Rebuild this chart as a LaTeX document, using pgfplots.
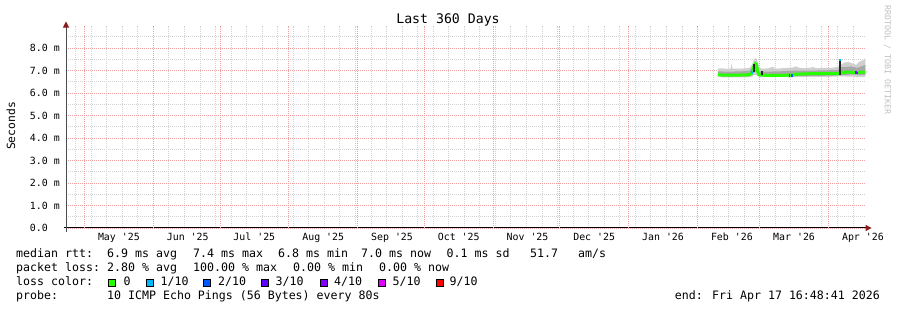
\documentclass[border=0pt]{standalone}
\usepackage{pgfplots}
\pgfplotsset{compat=1.18}
\usepackage{fontspec}
\setmainfont{DejaVu Sans Mono}
\setmonofont{DejaVu Sans Mono}
\usetikzlibrary{arrows.meta}
\definecolor{lcA}{HTML}{26FF00}
\definecolor{lcB}{HTML}{00B8FF}
\definecolor{lcC}{HTML}{0059FF}
\definecolor{lcD}{HTML}{5E00FF}
\definecolor{lcE}{HTML}{7E00FF}
\definecolor{lcF}{HTML}{DD00FF}
\definecolor{lcG}{HTML}{FF0000}
\definecolor{mgrid}{HTML}{F0A0A0}
\definecolor{mingrid}{HTML}{D2D2D2}
\definecolor{arrowred}{HTML}{8B1A1A}
\definecolor{smokeout}{HTML}{CFCFCF}
\definecolor{smokein}{HTML}{A8A8A8}
\definecolor{wmark}{HTML}{C0C0C0}
\newcommand\lf{\fontsize{11.6}{13}\selectfont}
\begin{document}
\begin{tikzpicture}[x=1pt,y=1pt]
\useasboundingbox (0,0) rectangle (897,310);
\begin{axis}[
  at={(66pt,82pt)}, anchor=south west,
  scale only axis, width=799.6pt, height=202.5pt,
  xmin=-8.3, xmax=351.7, ymin=0, ymax=9,
  axis x line*=bottom, axis y line*=left,
  x axis line style={black, line width=1pt, shorten <=-2pt, shorten >=-6pt, -{Triangle[length=6pt,width=6pt,color=arrowred]}},
  y axis line style={black!70, line width=1pt, shorten <=-4pt, shorten >=-4pt, -{Triangle[length=6pt,width=6pt,color=arrowred]}},
  xtick={15.5,46.5,76.5,107.5,138.5,168.5,199.5,229.5,260.5,291.5,319.5,350.5},
  xticklabels={May \textquotesingle25,Jun \textquotesingle25,Jul \textquotesingle25,Aug \textquotesingle25,Sep \textquotesingle25,Oct \textquotesingle25,Nov \textquotesingle25,Dec \textquotesingle25,Jan \textquotesingle26,Feb \textquotesingle26,Mar \textquotesingle26,Apr \textquotesingle26},
  extra x ticks={0,31,61,92,123,153,184,214,245,276,304,335},
  extra x tick labels={},
  extra x tick style={grid=major},
  minor xtick={-4,3,...,346},
  xminorgrids,
  ytick={0,1,2,3,4,5,6,7,8},
  yticklabels={0.0\hphantom{xx},1.0 m,2.0 m,3.0 m,4.0 m,5.0 m,6.0 m,7.0 m,8.0 m},
  minor ytick={0.5,1.5,2.5,3.5,4.5,5.5,6.5,7.5,8.5},
  ymajorgrids, yminorgrids,
  major grid style={mgrid, dash pattern=on 1pt off 1pt, line width=0.8pt},
  minor grid style={mingrid, dash pattern=on 1pt off 1pt, line width=0.8pt},
  major tick length=0pt, minor tick length=0pt,
  tick label style={font=\fontsize{9.9}{11}\selectfont},
  xticklabel style={anchor=base, yshift=-13pt},
  yticklabel style={anchor=east, inner sep=0pt, xshift=-6pt},
  clip=false,
]
% outer smoke band
\addplot[draw=none, fill=smokeout] coordinates {
(285.2,7.08) (287,7.10) (289,7.07) (291,7.09) (291.4,7.30) (291.8,7.08) (294,7.08) (297,7.09) (299.5,7.12) (300.5,7.25) (301.5,7.50) (302.2,7.55) (302.9,7.45) (303.6,7.15) (305,7.08) (308,7.10) (310,7.17) (311,7.08) (314,7.10) (317,7.12) (318.6,7.12) (320,7.18) (322,7.12) (325,7.10) (328,7.15) (330,7.10) (333,7.12) (336,7.12) (339,7.15) (340.5,7.25) (342,7.35) (344,7.38) (346,7.30) (347.5,7.25) (349,7.40) (350.5,7.45) (351.6,7.55)
(351.6,6.72) (348,6.72) (344,6.73) (340,6.74) (336,6.72) (330,6.72) (325,6.72) (320,6.71) (318,6.68) (315,6.72) (310,6.71) (305,6.70) (303.6,6.72) (302.5,6.80) (301.5,6.80) (300.5,6.72) (298,6.70) (294,6.70) (290,6.69) (287,6.70) (285.2,6.72)
} -- cycle;
% inner smoke band
\addplot[draw=none, fill=smokein] coordinates {
(285.2,6.96) (290,6.95) (295,6.96) (299.5,6.98) (301,7.20) (302.2,7.38) (303,7.15) (303.6,6.95) (308,6.95) (315,6.97) (320,7.00) (330,7.00) (339,7.02) (341,7.15) (345,7.18) (348,7.12) (351.6,7.25)
(351.6,6.80) (345,6.82) (340,6.78) (330,6.76) (320,6.75) (310,6.73) (304,6.74) (302.5,6.95) (301,6.90) (299.5,6.74) (290,6.73) (285.2,6.75)
} -- cycle;
% median rtt (loss 0)
\addplot[lcA, line width=3pt] coordinates {
(285.2,6.82) (287,6.80) (290,6.79) (293,6.79) (296,6.80) (299,6.81) (300.2,6.85) (300.8,6.97) (301.5,7.20) (302.1,7.30) (302.6,7.28) (303.1,6.95) (303.6,6.82) (305,6.80) (308,6.78) (312,6.78) (316,6.79) (318.6,6.80) (320,6.83) (324,6.85) (328,6.86) (332,6.86) (336,6.86) (339.3,6.86) (340.7,6.90) (343,6.93) (346,6.92) (348,6.90) (350,6.93) (351.6,6.93)
};
% loss-coloured segments
\addplot[lcB, line width=3pt] coordinates {(300.3,6.90) (300.9,6.95)};
\addplot[lcC, line width=3pt] coordinates {(317.9,6.80) (319.0,6.80)};
\addplot[lcE, line width=3pt] coordinates {(317.2,6.80) (317.8,6.80)};
\addplot[lcE, line width=3pt] coordinates {(346.8,6.90) (347.8,6.90)};
\addplot[lcG, line width=2pt] coordinates {(348.0,6.90) (348.5,6.90)};
% black bars
\addplot[black!85, line width=2.2pt] coordinates {(301.5,6.95) (301.5,7.30)};
\addplot[black!85, line width=2.2pt] coordinates {(305.1,6.78) (305.1,7.00)};
\addplot[black!85, line width=2.2pt] coordinates {(340.0,6.82) (340.0,7.42)};
\addplot[lcB, line width=2.2pt] coordinates {(340.0,7.42) (340.0,7.50)};
\end{axis}
% title and labels
\node[anchor=base, inner sep=0pt, font=\fontsize{13.2}{15}\selectfont] at (448,286) {Last 360 Days};
\node[rotate=90, inner sep=0pt, font=\fontsize{11.3}{13}\selectfont] at (11,184) {Seconds};
\node[rotate=-90, inner sep=0pt, text=wmark, font=\fontsize{8.3}{10}\selectfont] at (887.5,250) {RRDTOOL / TOBI OETIKER};
% legend
\begin{scope}[every node/.style={anchor=base west, inner sep=0pt, font=\lf}]
\node at (16,52.5) {median rtt:};
\node at (107,52.5) {6.9 ms avg};
\node at (193,52.5) {7.4 ms max};
\node at (278,52.5) {6.8 ms min};
\node at (361,52.5) {7.0 ms now};
\node at (446.5,52.5) {0.1 ms sd};
\node at (530,52.5) {51.7};
\node at (578,52.5) {am/s};
\node at (16,38.5) {packet loss:};
\node at (107,38.5) {2.80 \% avg};
\node at (193,38.5) {100.00 \% max};
\node at (293,38.5) {0.00 \% min};
\node at (379,38.5) {0.00 \% now};
\node at (16,24.5) {loss color:};
\node at (123.5,24.5) {0};
\node at (160.5,24.5) {1/10};
\node at (218,24.5) {2/10};
\node at (275.5,24.5) {3/10};
\node at (334,24.5) {4/10};
\node at (392.5,24.5) {5/10};
\node at (449.5,24.5) {9/10};
\node at (16,10.5) {probe:};
\node at (107,10.5) {10 ICMP Echo Pings (56 Bytes) every 80s};
\node[anchor=base east] at (880,10.5) {end: Fri Apr 17 16:48:41 2026};
\end{scope}
\foreach \bx/\bc in {108.5/lcA,146/lcB,203.5/lcC,261/lcD,320/lcE,378/lcF,436/lcG}{
  \filldraw[fill=\bc, draw=black, line width=0.8pt] (\bx,24) rectangle ++(7,7);
}
\end{tikzpicture}
\end{document}
